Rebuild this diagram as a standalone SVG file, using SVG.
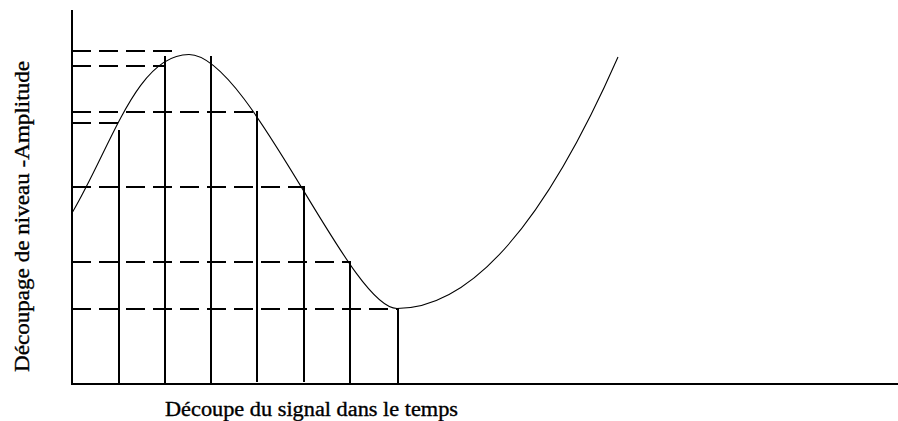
<svg xmlns="http://www.w3.org/2000/svg" width="898" height="421" viewBox="0 0 898 421">
<style>
.ax{stroke:#000;stroke-width:2;fill:none}
.v{stroke:#000;stroke-width:2;fill:none}
.d{stroke:#000;stroke-width:2;fill:none;stroke-dasharray:19 8}
.c{stroke:#000;stroke-width:1.1;fill:none}
.t{font-family:"Liberation Serif","Times New Roman",serif;font-size:20px;fill:#000;stroke:#000;stroke-width:0.35}
</style>
<rect width="898" height="421" fill="#fff"/>
<g id="axes">
<line class="ax" x1="72" y1="10" x2="72" y2="385"/>
<line class="ax" x1="71" y1="384" x2="898" y2="384"/>
</g>
<g id="levels">
<line class="d" x1="72" y1="51" x2="175" y2="51"/>
<line class="d" x1="72" y1="66" x2="165" y2="66"/>
<line class="d" x1="72" y1="112" x2="257" y2="112"/>
<line class="d" x1="72" y1="123" x2="118" y2="123"/>
<line class="d" x1="72" y1="187" x2="304" y2="187"/>
<line class="d" x1="72" y1="262" x2="350" y2="262"/>
<line class="d" x1="72" y1="309" x2="398" y2="309"/>
</g>
<g id="samples">
<line class="v" x1="119" y1="130" x2="119" y2="384"/>
<line class="v" x1="165" y1="56" x2="165" y2="384"/>
<line class="v" x1="211" y1="56" x2="211" y2="384"/>
<line class="v" x1="257" y1="111" x2="257" y2="382"/>
<line class="v" x1="304" y1="186" x2="304" y2="382"/>
<line class="v" x1="350" y1="261" x2="350" y2="384"/>
<line class="v" x1="398" y1="308" x2="398" y2="384"/>
</g>
<g id="signal">
<path class="c" d="M72,213 C112,145 137,54.5 189,54.5 C249.7,54.5 349.7,308.5 397,308.5 Q507.5,308.5 618,57"/>
</g>
<g id="labels">
<text class="t" x="165" y="416" textLength="293" lengthAdjust="spacingAndGlyphs">Découpe du signal dans le temps</text>
<text class="t" transform="translate(29,372) rotate(-90)" x="0" y="0" textLength="311" lengthAdjust="spacingAndGlyphs">Découpage de niveau -Amplitude</text>
</g>
</svg>
